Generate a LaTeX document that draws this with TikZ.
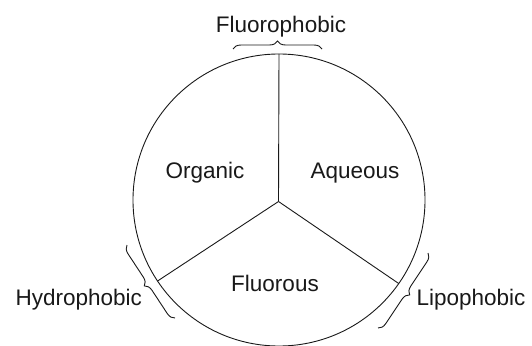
\documentclass[tikz,border=0pt]{standalone}
\usepackage{fontspec}
\setmainfont{Liberation Sans}
\usetikzlibrary{calc,decorations.pathreplacing}
\begin{document}
\begin{tikzpicture}[x=1pt,y=-1pt,
  ink/.style={draw=black!90, line width=0.9pt},
  lbl/.style={anchor=base, inner sep=0pt, text=black!90, font=\fontsize{22.5}{27}\selectfont},
  bracebox/.style={ink, decorate, decoration={brace, amplitude=8pt}}]
\useasboundingbox (0,0) rectangle (532,345);
\clip (0,0) rectangle (532,345);
\coordinate (C) at (279,200);
\coordinate (J) at (278.5,201.5);
\draw[ink] (C) circle[radius=146];
\coordinate (T) at ($(C)+(-90:146)$);
\coordinate (L) at ($(C)+(146.3:146)$);
\coordinate (R) at ($(C)+(34.9:146)$);
\draw[ink] (J) -- (T);
\draw[ink] (J) -- (L);
\draw[ink] (J) -- (R);
% braces
\coordinate (tb1) at (233,49);
\coordinate (tb2) at (322,49);
\draw[bracebox] (tb1) -- (tb2);
\coordinate (lb1) at (175,318);
\coordinate (lb2) at (127,245);
\draw[bracebox] (lb1) -- (lb2);
\coordinate (rb1) at (428,253);
\coordinate (rb2) at (378,328);
\draw[bracebox] (rb1) -- (rb2);
% labels
\node[lbl] (fp) at (281,33) {Fluorophobic};
\node[lbl] (org) at (205,178) {Organic};
\node[lbl] (aq) at (355,178) {Aqueous};
\node[lbl] (fl) at (275,291.5) {Fluorous};
\node[lbl] (hp) at (78.7,305) {Hydrophobic};
\node[lbl] (lp) at (471,305) {Lipophobic};
\end{tikzpicture}
\end{document}
